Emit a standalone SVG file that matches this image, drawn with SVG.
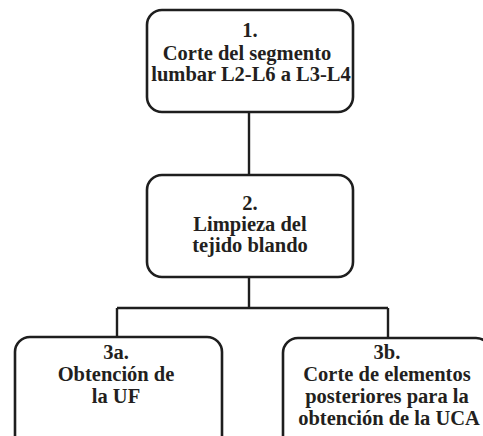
<svg xmlns="http://www.w3.org/2000/svg" width="483" height="436" viewBox="0 0 483 436">
<style>
.box{fill:#fff;stroke:#1e1e1e;stroke-width:2.6}
.t{font-family:"Liberation Serif","Times New Roman",serif;font-weight:bold;font-size:20.5px;fill:#231f20;text-anchor:middle}
.c{fill:none;stroke:#1e1e1e;stroke-width:2.4}
</style>
<rect width="483" height="436" fill="#fff"/>
<g id="connectors">
<path class="c" d="M249 112V175"/>
<path class="c" d="M249 277V308M117 308H388M117 308V337M388 308V338"/>
</g>
<g id="n1">
<rect class="box" x="147" y="10" width="206" height="102" rx="15"/>
<text class="t" x="250" y="37">1.</text>
<text class="t" x="247" y="59.5">Corte del segmento</text>
<text class="t" x="251" y="81">lumbar L2-L6 a L3-L4</text>
</g>
<g id="n2">
<rect class="box" x="147" y="175" width="206" height="102" rx="15"/>
<text class="t" x="250" y="210">2.</text>
<text class="t" x="250" y="231">Limpieza del</text>
<text class="t" x="250" y="252">tejido blando</text>
</g>
<g id="n3a">
<rect class="box" x="15" y="337" width="207" height="115" rx="15"/>
<text class="t" x="116" y="359">3a.</text>
<text class="t" x="116" y="381">Obtención de</text>
<text class="t" x="116" y="403">la UF</text>
</g>
<g id="n3b">
<rect class="box" x="283" y="338" width="208" height="115" rx="15"/>
<text class="t" x="387" y="359">3b.</text>
<text class="t" x="387" y="381">Corte de elementos</text>
<text class="t" x="387" y="403">posteriores para la</text>
<text class="t" x="389" y="425">obtención de la UCA</text>
</g>
</svg>
